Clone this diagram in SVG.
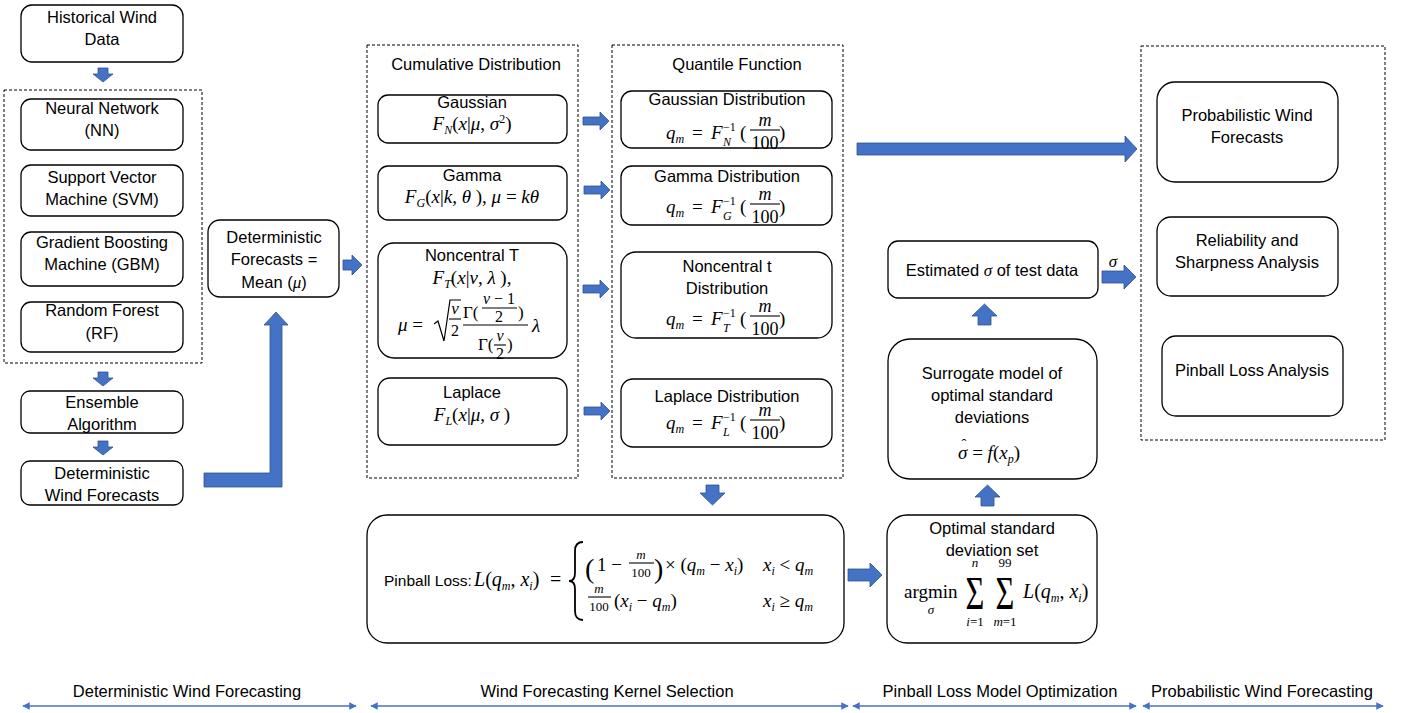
<svg xmlns="http://www.w3.org/2000/svg" width="1403" height="713" viewBox="0 0 1403 713">
<defs>
<style>
.bx{fill:#fff;stroke:#000;stroke-width:1.3}
.ds{fill:none;stroke:#000;stroke-width:1;stroke-dasharray:3 2}
.t{font-family:"Liberation Sans",Arial,sans-serif;font-size:16.5px;fill:#000;text-anchor:middle}
.tl{font-family:"Liberation Sans",Arial,sans-serif;font-size:15.5px;fill:#000}
.m{font-family:"Liberation Serif","Times New Roman",serif;font-size:19px;font-style:italic;fill:#000}
.sm{font-family:"Liberation Serif","Times New Roman",serif;font-size:13px;fill:#000}
.mc{text-anchor:middle}
.r{font-style:normal}
.s{font-size:12px}
.f13{font-size:13px}
.f15{font-size:15px}
.f16{font-size:16px}
.f17{font-size:17px}
.f18{font-size:18px}
.f20{font-size:20px}
.f28{font-size:28px}
.f54{font-size:54px}
.ar{fill:#4472C4;stroke:#2F528F;stroke-width:0.8}
.fb{stroke:#000;stroke-width:1.1}
.bl{stroke:#4472C4;stroke-width:1.5;fill:none;marker-start:url(#ah);marker-end:url(#ah)}
.bt{font-family:"Liberation Sans",Arial,sans-serif;font-size:16.5px;fill:#000;text-anchor:middle}
</style>
<marker id="ah" viewBox="0 0 10 10" refX="9" refY="5" markerWidth="5" markerHeight="5" orient="auto-start-reverse" markerUnits="strokeWidth">
<path d="M0,0 L10,5 L0,10 z" fill="#4472C4"/>
</marker>
</defs>
<rect width="1403" height="713" fill="#fff"/>

<!-- dashed groups -->
<g id="group-models"><rect class="ds" x="4" y="90" width="198" height="273"/></g>
<g id="group-cdf"><rect class="ds" x="367" y="45" width="211" height="433"/>
<text class="t" x="476" y="70">Cumulative Distribution</text></g>
<g id="group-quantile"><rect class="ds" x="612" y="45" width="231" height="433"/>
<text class="t" x="737" y="70">Quantile Function</text></g>
<g id="group-prob"><rect class="ds" x="1141" y="46" width="244" height="394"/></g>

<!-- left column -->
<g id="hist"><rect class="bx" x="21" y="5" width="162" height="57" rx="11"/>
<text class="t" x="102" y="23">Historical Wind</text><text class="t" x="102" y="45">Data</text></g>
<g id="nn"><rect class="bx" x="21" y="99" width="162" height="51" rx="10"/>
<text class="t" x="102" y="114">Neural Network</text><text class="t" x="102" y="136">(NN)</text></g>
<g id="svm"><rect class="bx" x="21" y="165" width="162" height="51" rx="10"/>
<text class="t" x="102" y="183">Support Vector</text><text class="t" x="102" y="205">Machine (SVM)</text></g>
<g id="gbm"><rect class="bx" x="21" y="232" width="162" height="54" rx="10"/>
<text class="t" x="102" y="248">Gradient Boosting</text><text class="t" x="102" y="270">Machine (GBM)</text></g>
<g id="rf"><rect class="bx" x="21" y="302" width="162" height="50" rx="10"/>
<text class="t" x="102" y="316">Random Forest</text><text class="t" x="102" y="339">(RF)</text></g>
<g id="ensemble"><rect class="bx" x="21" y="391" width="162" height="42" rx="9"/>
<text class="t" x="102" y="408">Ensemble</text><text class="t" x="102" y="430">Algorithm</text></g>
<g id="detwind"><rect class="bx" x="21" y="461" width="162" height="44" rx="9"/>
<text class="t" x="102" y="479">Deterministic</text><text class="t" x="102" y="501">Wind Forecasts</text></g>
<g id="detmean"><rect class="bx" x="208" y="220" width="131" height="77" rx="12"/>
<text class="t" x="274" y="243">Deterministic</text><text class="t" x="274" y="265">Forecasts =</text>
<text class="t" x="274" y="288">Mean (<tspan class="m f17">μ</tspan>)</text></g>

<!-- cumulative distributions -->
<g id="cdf-gauss"><rect class="bx" x="378" y="95" width="189" height="48" rx="10"/>
<text class="t" x="472" y="108">Gaussian</text>
<text class="m mc" x="472" y="130">F<tspan class="s" dy="4">N</tspan><tspan class="r" dy="-4">(</tspan>x<tspan class="r">|</tspan>μ<tspan class="r">, </tspan>σ<tspan class="s r" dy="-7">2</tspan><tspan class="r" dy="7">)</tspan></text></g>
<g id="cdf-gamma"><rect class="bx" x="378" y="166" width="189" height="54" rx="10"/>
<text class="t" x="472" y="181">Gamma</text>
<text class="m mc" x="472" y="203">F<tspan class="s" dy="4">G</tspan><tspan class="r" dy="-4">(</tspan>x<tspan class="r">|</tspan>k<tspan class="r">, </tspan>θ<tspan class="r"> ), </tspan>μ<tspan class="r"> = </tspan>kθ</text></g>
<g id="cdf-nct"><rect class="bx" x="378" y="243" width="189" height="115" rx="16"/>
<text class="t" x="472" y="261">Noncentral T</text>
<text class="m mc" x="472" y="284">F<tspan class="s" dy="4">T</tspan><tspan class="r" dy="-4">(</tspan>x<tspan class="r">|</tspan>ν<tspan class="r">, </tspan>λ<tspan class="r"> ),</tspan></text>
<text class="m" x="398" y="331">μ<tspan class="r"> =</tspan></text>
<path d="M434,324 L438,321 L444,341 L450,300 L461,300" fill="none" stroke="#000" stroke-width="1.2"/>
<text class="m mc f17" x="455" y="314">ν</text>
<line class="fb" x1="449" y1="319" x2="461" y2="319"/>
<text class="sm mc f16" x="455" y="336">2</text>
<line class="fb" x1="463" y1="325" x2="528" y2="325"/>
<text class="m r f17" x="463" y="318">Γ(</text>
<text class="m mc f16" x="499" y="304">ν<tspan class="r"> − 1</tspan></text>
<line class="fb" x1="482" y1="308" x2="517" y2="308"/>
<text class="sm mc f16" x="499" y="322">2</text>
<text class="m r f17" x="518" y="318">)</text>
<text class="m r f17" x="478" y="350">Γ(</text>
<text class="m mc f16" x="500" y="341">ν</text>
<line class="fb" x1="494" y1="345" x2="506" y2="345"/>
<text class="sm mc f16" x="500" y="359">2</text>
<text class="m r f17" x="507" y="350">)</text>
<text class="m" x="532" y="332">λ</text></g>
<g id="cdf-laplace"><rect class="bx" x="378" y="378" width="189" height="67" rx="12"/>
<text class="t" x="472" y="398">Laplace</text>
<text class="m mc" x="472" y="421">F<tspan class="s" dy="4">L</tspan><tspan class="r" dy="-4">(</tspan>x<tspan class="r">|</tspan>μ<tspan class="r">, </tspan>σ<tspan class="r"> )</tspan></text></g>

<!-- quantile functions -->
<g id="q-gauss"><rect class="bx" x="621" y="91" width="211" height="57" rx="11"/>
<text class="t" x="727" y="105">Gaussian Distribution</text>
<text class="m" x="666" y="139">q<tspan class="s" dy="4">m</tspan></text><text class="m r" x="692" y="139">=</text>
<text class="m" x="711" y="139">F</text><text class="sm s" x="723" y="131">−1</text><text class="m s" x="723" y="146">N</text>
<text class="m r" x="740" y="139">(</text>
<text class="m mc f18" x="765" y="126">m</text><line class="fb" x1="750" y1="130" x2="780" y2="130"/>
<text class="sm mc f18" x="765" y="149">100</text><text class="m r" x="779" y="139">)</text></g>
<g id="q-gamma"><rect class="bx" x="621" y="166" width="211" height="59" rx="11"/>
<text class="t" x="727" y="182">Gamma Distribution</text>
<text class="m" x="666" y="213">q<tspan class="s" dy="4">m</tspan></text><text class="m r" x="692" y="213">=</text>
<text class="m" x="711" y="213">F</text><text class="sm s" x="723" y="205">−1</text><text class="m s" x="723" y="220">G</text>
<text class="m r" x="740" y="213">(</text>
<text class="m mc f18" x="765" y="200">m</text><line class="fb" x1="750" y1="204" x2="780" y2="204"/>
<text class="sm mc f18" x="765" y="223">100</text><text class="m r" x="779" y="213">)</text></g>
<g id="q-nct"><rect class="bx" x="621" y="252" width="211" height="86" rx="15"/>
<text class="t" x="727" y="272">Noncentral t</text><text class="t" x="727" y="294">Distribution</text>
<text class="m" x="666" y="325">q<tspan class="s" dy="4">m</tspan></text><text class="m r" x="692" y="325">=</text>
<text class="m" x="711" y="325">F</text><text class="sm s" x="723" y="317">−1</text><text class="m s" x="723" y="332">T</text>
<text class="m r" x="740" y="325">(</text>
<text class="m mc f18" x="765" y="312">m</text><line class="fb" x1="750" y1="316" x2="780" y2="316"/>
<text class="sm mc f18" x="765" y="335">100</text><text class="m r" x="779" y="325">)</text></g>
<g id="q-laplace"><rect class="bx" x="621" y="379" width="211" height="68" rx="12"/>
<text class="t" x="727" y="402">Laplace Distribution</text>
<text class="m" x="666" y="429">q<tspan class="s" dy="4">m</tspan></text><text class="m r" x="692" y="429">=</text>
<text class="m" x="711" y="429">F</text><text class="sm s" x="723" y="421">−1</text><text class="m s" x="723" y="436">L</text>
<text class="m r" x="740" y="429">(</text>
<text class="m mc f18" x="765" y="416">m</text><line class="fb" x1="750" y1="420" x2="780" y2="420"/>
<text class="sm mc f18" x="765" y="439">100</text><text class="m r" x="779" y="429">)</text></g>

<!-- pinball loss -->
<g id="pinball"><rect class="bx" x="367" y="515" width="477" height="128" rx="20"/>
<text class="tl" x="384" y="586">Pinball Loss:</text>
<text class="m f20" x="474" y="586">L<tspan class="r">(</tspan>q<tspan class="s" dy="4">m</tspan><tspan class="r" dy="-4">, </tspan>x<tspan class="s" dy="4">i</tspan><tspan class="r" dy="-4">)</tspan></text>
<text class="m r f20" x="550" y="586">=</text>
<path d="M583,542 Q575,542 575,551 L575,573 Q575,581 569,581 Q575,581 575,589 L575,611 Q575,620 583,620" fill="none" stroke="#000" stroke-width="1.8"/>
<text class="m r f28" x="585" y="578">(</text>
<text class="m r" x="597" y="571">1 −</text>
<text class="m mc f13" x="641" y="559">m</text><line class="fb" x1="629" y1="563" x2="654" y2="563"/>
<text class="sm mc" x="641" y="577">100</text>
<text class="m r f28" x="654" y="578">)</text>
<text class="m" x="665" y="571"><tspan class="r">× (</tspan>q<tspan class="s" dy="4">m</tspan><tspan class="r" dy="-4"> − </tspan>x<tspan class="s" dy="4">i</tspan><tspan class="r" dy="-4">)</tspan></text>
<text class="m" x="763" y="571">x<tspan class="s" dy="4">i</tspan><tspan class="r" dy="-4"> &lt; </tspan>q<tspan class="s" dy="4">m</tspan></text>
<text class="m mc f13" x="599" y="593">m</text><line class="fb" x1="588" y1="597" x2="611" y2="597"/>
<text class="sm mc" x="599" y="611">100</text>
<text class="m" x="614" y="607"><tspan class="r">(</tspan>x<tspan class="s" dy="4">i</tspan><tspan class="r" dy="-4"> − </tspan>q<tspan class="s" dy="4">m</tspan><tspan class="r" dy="-4">)</tspan></text>
<text class="m" x="763" y="607">x<tspan class="s" dy="4">i</tspan><tspan class="r" dy="-4"> ≥ </tspan>q<tspan class="s" dy="4">m</tspan></text></g>

<!-- optimization -->
<g id="optimal"><rect class="bx" x="887" y="515" width="210" height="128" rx="20"/>
<text class="t" x="992" y="534">Optimal standard</text><text class="t" x="992" y="556">deviation set</text>
<text class="m r" x="904" y="598">argmin</text>
<text class="m mc f13" x="931" y="614">σ</text>
<text class="m r mc f54" transform="translate(975,609) scale(0.6,0.85)">Σ</text>
<text class="m mc f13" x="975" y="567">n</text>
<text class="m mc f13" x="975" y="626">i<tspan class="r">=1</tspan></text>
<text class="m r mc f54" transform="translate(1005,609) scale(0.6,0.85)">Σ</text>
<text class="sm mc" x="1005" y="567">99</text>
<text class="m mc f13" x="1005" y="626">m<tspan class="r">=1</tspan></text>
<text class="m f20" x="1023" y="598">L<tspan class="r">(</tspan>q<tspan class="s" dy="4">m</tspan><tspan class="r" dy="-4">, </tspan>x<tspan class="s" dy="4">i</tspan><tspan class="r" dy="-4">)</tspan></text></g>
<g id="surrogate"><rect class="bx" x="888" y="339" width="209" height="140" rx="22"/>
<text class="t" x="992" y="379">Surrogate model of</text><text class="t" x="992" y="401">optimal standard</text>
<text class="t" x="992" y="423">deviations</text>
<text class="m" x="958" y="459">σ<tspan class="r"> = </tspan>f<tspan class="r">(</tspan>x<tspan class="s" dy="4">p</tspan><tspan class="r" dy="-4">)</tspan></text>
<text class="sm mc f15" x="964" y="449">ˆ</text></g>
<g id="estimated"><rect class="bx" x="888" y="241" width="210" height="57" rx="10"/>
<text class="t" x="992" y="276">Estimated <tspan class="m f17">σ</tspan> of test data</text></g>

<!-- probabilistic -->
<g id="probfc"><rect class="bx" x="1157" y="82" width="181" height="100" rx="18"/>
<text class="t" x="1247" y="121">Probabilistic Wind</text><text class="t" x="1247" y="143">Forecasts</text></g>
<g id="reliab"><rect class="bx" x="1157" y="217" width="181" height="79" rx="14"/>
<text class="t" x="1247" y="246">Reliability and</text><text class="t" x="1247" y="268">Sharpness Analysis</text></g>
<g id="pinballan"><rect class="bx" x="1162" y="336" width="181" height="80" rx="14"/>
<text class="t" x="1252" y="376">Pinball Loss Analysis</text></g>

<!-- connectors -->
<g id="connectors">
<path class="ar" d="M98,68 H108 V74 H113 L103,82 L93,74 H98 Z"/>
<path class="ar" d="M98,372 H108 V378 H113 L103,386 L93,378 H98 Z"/>
<path class="ar" d="M98,441 H108 V447 H113 L103,455 L93,447 H98 Z"/>
<path class="ar" d="M204,473 H270 V325 H264 L276,312 L288,325 H282 V487 H204 Z"/>
<path class="ar" d="M343,260 H352 V255 L362,265 L352,275 V270 H343 Z"/>
<path class="ar" d="M583,117 H600 V112 L609,121 L600,130 V125 H583 Z"/>
<path class="ar" d="M584,186 H601 V181 L610,190 L601,199 V194 H584 Z"/>
<path class="ar" d="M583,285 H600 V280 L609,289 L600,298 V293 H583 Z"/>
<path class="ar" d="M584,407 H601 V402 L610,411 L601,420 V415 H584 Z"/>
<path class="ar" d="M857,143 H1125 V136 L1137,149 L1125,162 V155 H857 Z"/>
<path class="ar" d="M706,485 H719 V493 H725 L712.5,505 L700,493 H706 Z"/>
<path class="ar" d="M848,569 H870 V563 L882,575 L870,587 V581 H848 Z"/>
<path class="ar" d="M981,506 H994 V497 H1000 L987.5,485 L975,497 H981 Z"/>
<path class="ar" d="M978,325 H991 V316 H997 L984.5,304 L972,316 H978 Z"/>
<path class="ar" d="M1102,271 H1124 V265 L1136,277 L1124,289 V283 H1102 Z"/>
<text class="m mc f17" x="1113" y="267">σ</text>
</g>

<!-- phase bar -->
<g id="phases">
<line class="bl" x1="23" y1="706" x2="356" y2="706"/>
<line class="bl" x1="371" y1="706" x2="848" y2="706"/>
<line class="bl" x1="853" y1="706" x2="1136" y2="706"/>
<line class="bl" x1="1143" y1="706" x2="1383" y2="706"/>
<text class="bt" x="187" y="697">Deterministic Wind Forecasting</text>
<text class="bt" x="607" y="697">Wind Forecasting Kernel Selection</text>
<text class="bt" x="1000" y="697">Pinball Loss Model Optimization</text>
<text class="bt" x="1262" y="697">Probabilistic Wind Forecasting</text>
</g>
</svg>
